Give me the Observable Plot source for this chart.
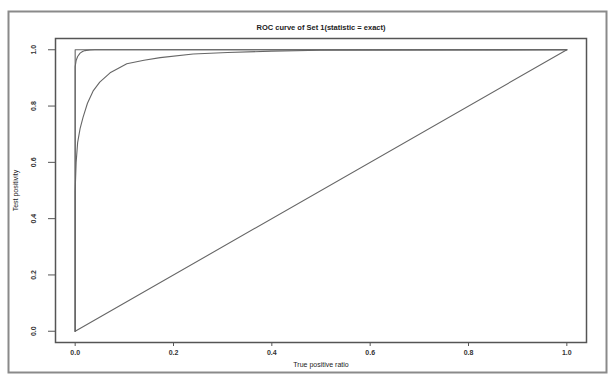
<!DOCTYPE html>
<html>
<head>
<meta charset="utf-8">
<script src="https://cdn.jsdelivr.net/npm/d3@7"></script>
<script src="https://cdn.jsdelivr.net/npm/@observablehq/plot@0.6"></script>
<style>
  html, body { margin: 0; padding: 0; background: white; }
  #chart { width: 608px; height: 374px; }
</style>
</head>
<body>
<div id="chart"></div>
<script>
// Chart text
const title = "ROC curve of Set 1(statistic = exact)";
const xLabel = "True positive ratio";
const yLabel = "Test positivity";
const tickValues = [0, 0.2, 0.4, 0.6, 0.8, 1.0];

// Perfect classifier reference (left and top edges)
const perfectFpr = [0, 0, 1];
const perfectTpr = [0, 1, 1];

// Chance diagonal
const chanceFpr = [0, 1];
const chanceTpr = [0, 1];

// Inner (very good) ROC curve
const innerFpr = [0, 0, 0.002, 0.005, 0.01, 0.015, 0.02, 0.03, 0.04, 1];
const innerTpr = [0, 0.94, 0.962, 0.976, 0.988, 0.994, 0.997, 0.999, 1, 1];

// Outer ROC curve
const outerFpr = [0, 0, 0.002, 0.005, 0.01, 0.016, 0.025, 0.037, 0.05, 0.071, 0.09, 0.105, 0.14, 0.173, 0.24, 0.31, 0.4, 0.5, 1];
const outerTpr = [0, 0.5, 0.6, 0.67, 0.72, 0.76, 0.81, 0.855, 0.885, 0.918, 0.936, 0.95, 0.963, 0.972, 0.985, 0.99, 0.995, 0.998, 1];

const toRows = (xs, ys, id) => xs.map((x, i) => ({x, y: ys[i], id}));
const rows = [
  ...toRows(perfectFpr, perfectTpr, "perfect"),
  ...toRows(chanceFpr, chanceTpr, "chance"),
  ...toRows(innerFpr, innerTpr, "inner"),
  ...toRows(outerFpr, outerTpr, "outer")
];

const font = "'Liberation Sans', Arial, sans-serif";

const chart = Plot.plot({
  width: 608,
  height: 374,
  marginLeft: 55,
  marginRight: 22,
  marginTop: 38,
  marginBottom: 32,
  style: {fontFamily: font, fontSize: "7px", background: "white", color: "#333"},
  x: {domain: [-0.04, 1.04], axis: null},
  y: {domain: [-0.04, 1.04], axis: null},
  marks: [
    // outer figure border
    Plot.frame({stroke: "#8a8a8a", strokeWidth: 2, insetLeft: -47, insetTop: -27, insetRight: -20, insetBottom: -30}),
    // plot box
    Plot.frame({stroke: "#555", strokeWidth: 1.5}),
    Plot.axisX({ticks: tickValues, tickSize: 4, tickPadding: 4, tickFormat: d3.format(".1f"), label: null, fontWeight: "bold", stroke: "#555", fill: "#333"}),
    Plot.axisY({ticks: tickValues, tickSize: 7, tickFormat: () => "", label: null, stroke: "#555"}),
    Plot.text(tickValues, {y: d => d, text: d => d3.format(".1f")(d), frameAnchor: "left", dx: -22, rotate: -90, textAnchor: "middle", fontWeight: "bold", fill: "#333"}),
    Plot.line(rows, {x: "x", y: "y", z: "id", stroke: "#666", strokeWidth: 1.1}),
    Plot.text([title], {text: d => d, frameAnchor: "top", dy: -14, fontWeight: "bold", fontSize: 7.5, fill: "#222"}),
    Plot.text([xLabel], {text: d => d, frameAnchor: "bottom", dy: 24, fontSize: 7, fill: "#222"}),
    Plot.text([yLabel], {text: d => d, frameAnchor: "left", dx: -40, rotate: -90, textAnchor: "middle", fontSize: 7, fill: "#222"})
  ]
});
document.getElementById("chart").append(chart);
</script>
</body>
</html>
